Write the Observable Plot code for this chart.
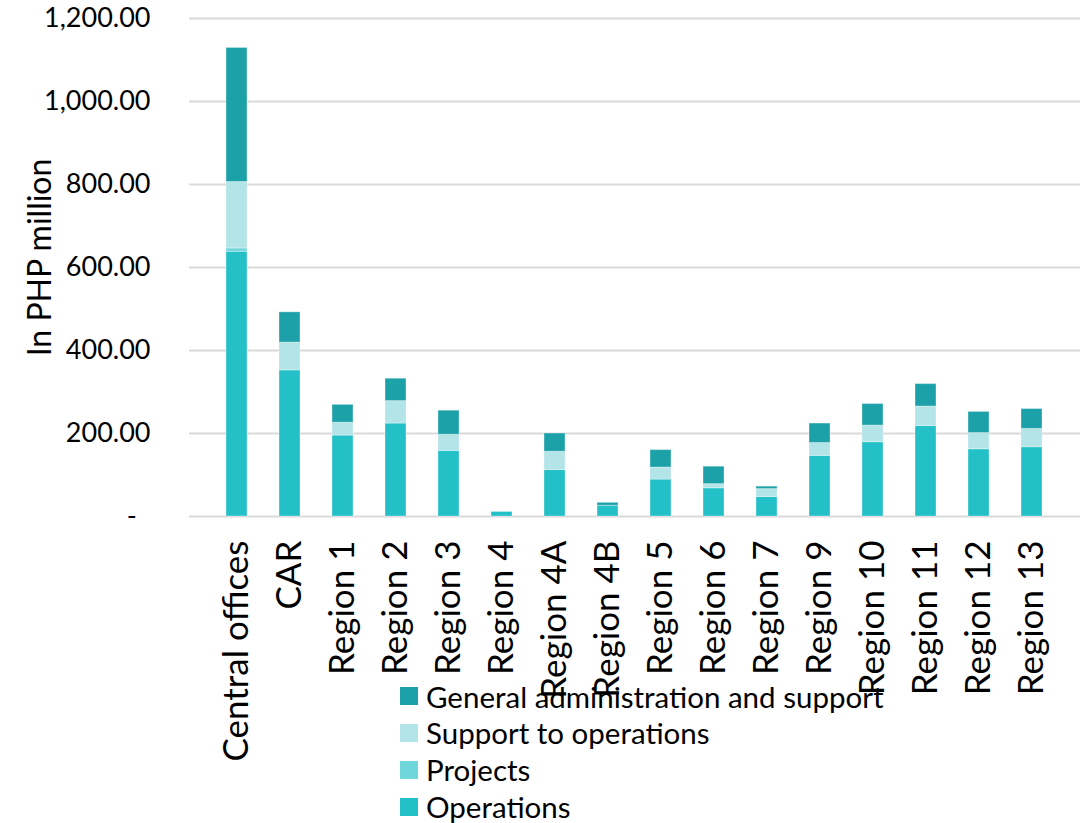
<!DOCTYPE html>
<html>
<head>
<meta charset="utf-8">
<script src="https://cdn.jsdelivr.net/npm/d3@7"></script>
<script src="https://cdn.jsdelivr.net/npm/@observablehq/plot@0.6"></script>
<style>
  body { margin: 0; background: #fff; font-family: Lato, "Noto Sans", sans-serif; }
  #wrap { position: relative; width: 1087px; height: 823px; overflow: hidden; }
  #legend { position: absolute; left: 400px; top: 678px; font-size: 29.5px; line-height: 1; color: #000; }
  #legend .row { display: flex; align-items: center; height: 36.8px; }
  #legend .sw { width: 18px; height: 18px; margin-right: 8px; flex: none; }
</style>
</head>
<body>
<div id="wrap">
  <div id="chart"></div>
  <div id="legend"></div>
</div>
<script>
// Budget by office, in PHP million
const categories = ["Central offices", "CAR", "Region 1", "Region 2", "Region 3", "Region 4", "Region 4A", "Region 4B",
  "Region 5", "Region 6", "Region 7", "Region 9", "Region 10", "Region 11", "Region 12", "Region 13"];
const operations = [638, 352, 195, 224, 158, 11, 112, 26, 89, 68, 47, 146, 179, 218, 162, 167];
const projects   = [8, 0, 0, 0, 0, 0, 0, 0, 0, 0, 0, 0, 0, 0, 0, 0];
const support    = [160, 67, 31, 54, 39, 0, 44, 0, 29, 10, 19, 31, 40, 47, 39, 44];
const genAdmin   = [323, 73, 43, 54, 58, 0, 44, 7, 42, 42, 6, 47, 52, 54, 51, 48];

const seriesNames = ["Operations", "Projects", "Support to operations", "General administration and support"];
const seriesValues = [operations, projects, support, genAdmin];
const seriesColors = ["#23c1c7", "#6fd6dc", "#b2e4e8", "#1da1a8"];
const yTicks = [0, 200, 400, 600, 800, 1000, 1200];
const yLabel = "In PHP million";

const rows = seriesNames.flatMap((s, i) =>
  categories.map((c, j) => ({category: c, series: s, value: seriesValues[i][j]})));

const fmt = d3.format(",.2f");

const chart = Plot.plot({
  width: 1087,
  height: 823,
  marginLeft: 189,
  marginRight: 7,
  marginTop: 18,
  marginBottom: 307,
  style: {fontFamily: "Lato, 'Noto Sans', sans-serif", fontSize: "27px", color: "#000", background: "#fff"},
  x: {domain: categories, padding: 0.6},
  y: {domain: [0, 1200]},
  color: {domain: seriesNames, range: seriesColors},
  marks: [
    Plot.gridY(yTicks, {stroke: "#d9d9d9", strokeOpacity: 1, strokeWidth: 2}),
    Plot.barY(rows, Plot.stackY({order: seriesNames}, {
      x: "category", y: "value", fill: "series",
      stroke: "#ffffff", strokeOpacity: 0.35, strokeWidth: 1
    })),
    Plot.axisY(yTicks, {
      tickSize: 0, tickPadding: 39, fontSize: 27,
      tickFormat: d => d === 0 ? "-\u00a0\u00a0" : fmt(d),
      label: null
    }),
    // vertical axis title
    Plot.text([yLabel], {
      frameAnchor: "left", rotate: -90, dx: -149, dy: -10,
      fontSize: 32, textAnchor: "middle", fill: "#000"
    }),
    Plot.axisX({tickSize: 0, tickPadding: 24, tickRotate: -90, fontSize: 35, label: null})
  ]
});
document.getElementById("chart").appendChild(chart);

// Legend, top series first
const legend = d3.select("#legend");
seriesNames.slice().reverse().forEach(name => {
  const row = legend.append("div").attr("class", "row");
  row.append("div").attr("class", "sw").style("background", seriesColors[seriesNames.indexOf(name)]);
  row.append("span").text(name);
});
</script>
</body>
</html>
